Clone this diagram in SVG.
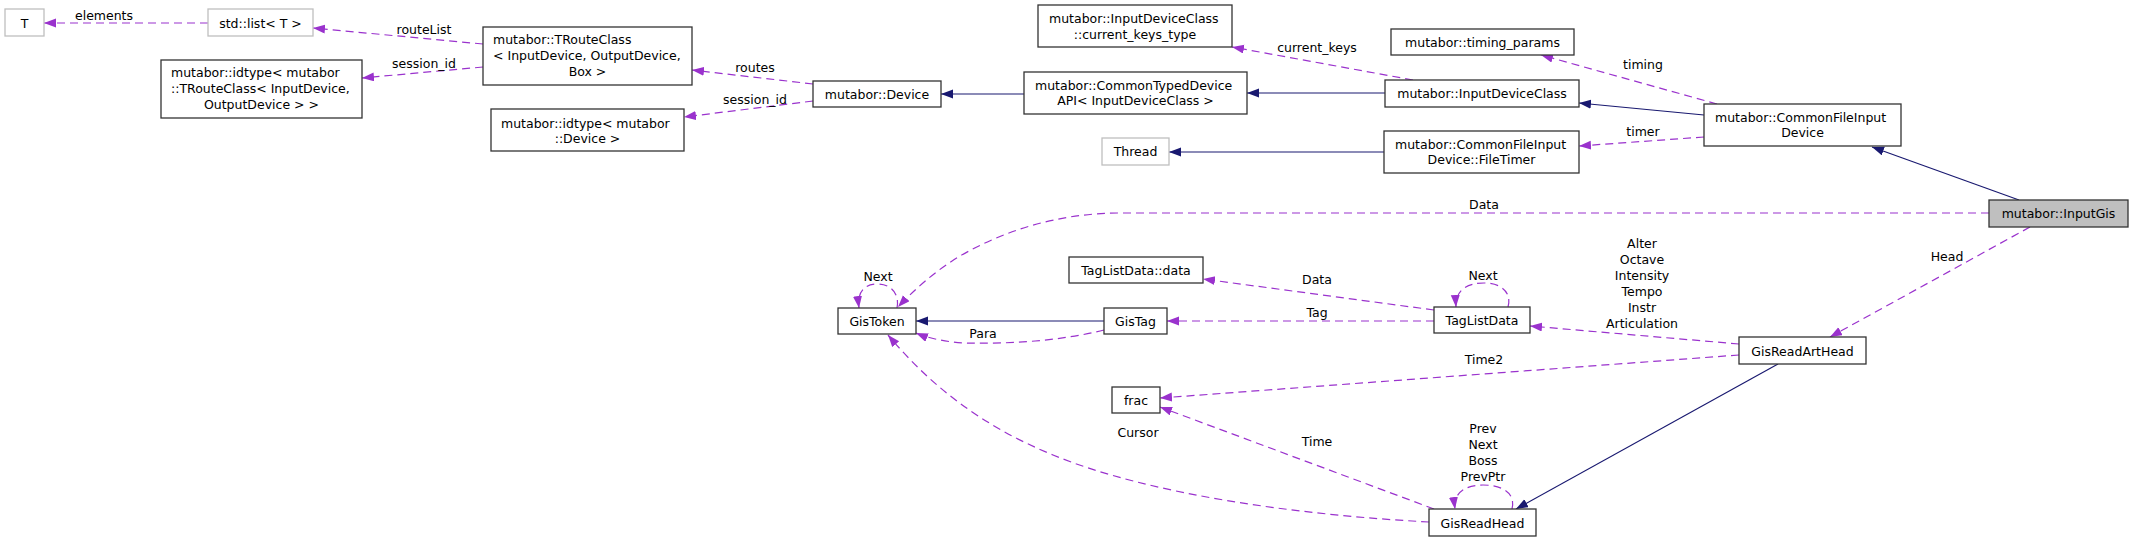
<svg xmlns="http://www.w3.org/2000/svg" width="2133" height="541" viewBox="0 0 2133 541">
<style>
  text { font-family: "DejaVu Sans", "Liberation Sans", sans-serif; font-size: 12.5px; fill: #000; }
  .c { text-anchor: middle; }
  .l { text-anchor: start; }
  .box { fill: #fff; stroke: #333; stroke-width: 1.3; }
  .gbox { fill: #fff; stroke: #bfbfbf; stroke-width: 1.3; }
  .sel { fill: #bfbfbf; stroke: #333; stroke-width: 1.3; }
  .use { fill: none; stroke: #9a32cd; stroke-width: 1.2; stroke-dasharray: 8,5; marker-end: url(#ap); }
  .inh { fill: none; stroke: #191970; stroke-width: 1.2; marker-end: url(#ab); }
</style>
<defs>
  <marker id="ap" markerUnits="userSpaceOnUse" markerWidth="13" markerHeight="10" refX="12" refY="4.5" orient="auto" viewBox="0 0 13 10">
    <path d="M0,0 L12,4.5 L0,9 z" fill="#9a32cd"/>
  </marker>
  <marker id="ab" markerUnits="userSpaceOnUse" markerWidth="13" markerHeight="10" refX="12" refY="4.5" orient="auto" viewBox="0 0 13 10">
    <path d="M0,0 L12,4.5 L0,9 z" fill="#191970"/>
  </marker>
</defs>
<rect width="2133" height="541" fill="#fff"/>

<g id="connectors">
  <path class="use" d="M208,23 L44,23"/>
  <path class="use" d="M483,44 L313,28"/>
  <path class="use" d="M483,67 L362,78"/>
  <path class="use" d="M813,84 L692,70"/>
  <path class="use" d="M813,101 L684,117"/>
  <path class="use" d="M1413,80 L1232,47"/>
  <path class="use" d="M1717,104 L1541,55"/>
  <path class="use" d="M1704,137 L1579,146"/>
  <path class="use" d="M1989,213 L1120,213 C1060,213 1005,230 960,256 C935,271 914,290 898,307"/>
  <path class="use" d="M2030,227 L1830,337"/>
  <path class="use" d="M1434,310 L1203,279"/>
  <path class="use" d="M1434,321 L1167,321"/>
  <path class="use" d="M1508,307 C1512,293 1502,283 1484,283 C1466,283 1455,291 1456,307"/>
  <path class="use" d="M897,308 C900,293 890,284 878,284 C864,284 857,292 859,308"/>
  <path class="use" d="M1104,330 C1060,341 1010,344 965,343 C945,342 928,338 916,333"/>
  <path class="use" d="M1739,344 L1530,326"/>
  <path class="use" d="M1739,355 L1160,398"/>
  <path class="use" d="M1434,509 L1160,407"/>
  <path class="use" d="M1429,522 C1300,515 1150,495 1053,455 C980,425 930,385 888,335"/>
  <path class="use" d="M1512,509 C1516,493 1502,485 1483,485 C1464,485 1453,494 1455,509"/>

  <path class="inh" d="M1024,94 L941,94"/>
  <path class="inh" d="M1385,93 L1247,93"/>
  <path class="inh" d="M1704,115 L1579,103"/>
  <path class="inh" d="M1384,152 L1169,152"/>
  <path class="inh" d="M1104,321 L916,321"/>
  <path class="inh" d="M2019,200 L1872,147"/>
  <path class="inh" d="M1778,364 L1516,509"/>

  <text class="c" x="104" y="19.5">elements</text>
  <text class="c" x="424" y="34">routeList</text>
  <text class="c" x="424" y="67.5">session_id</text>
  <text class="c" x="755" y="71.5">routes</text>
  <text class="c" x="755" y="103.5">session_id</text>
  <text class="c" x="1317" y="51.5">current_keys</text>
  <text class="c" x="1643" y="68.5">timing</text>
  <text class="c" x="1643" y="135.5">timer</text>
  <text class="c" x="1484" y="208.5">Data</text>
  <text class="c" x="1947" y="260.5">Head</text>
  <text class="c" x="878" y="280.5">Next</text>
  <text class="c" x="1317" y="283.5">Data</text>
  <text class="c" x="1483" y="279.5">Next</text>
  <text class="c" x="983" y="337.5">Para</text>
  <text class="c" x="1317" y="316.5">Tag</text>
  <text class="c" x="1642" y="247.5">Alter</text>
  <text class="c" x="1642" y="263.5">Octave</text>
  <text class="c" x="1642" y="279.5">Intensity</text>
  <text class="c" x="1642" y="295.5">Tempo</text>
  <text class="c" x="1642" y="311.5">Instr</text>
  <text class="c" x="1642" y="327.5">Articulation</text>
  <text class="c" x="1484" y="363.5">Time2</text>
  <text class="c" x="1138" y="437">Cursor</text>
  <text class="c" x="1317" y="445.5">Time</text>
  <text class="c" x="1483" y="433">Prev</text>
  <text class="c" x="1483" y="449">Next</text>
  <text class="c" x="1483" y="465">Boss</text>
  <text class="c" x="1483" y="481">PrevPtr</text>
</g>

<g id="node_T">
  <rect class="gbox" x="5" y="9" width="39" height="27"/>
  <text class="c" x="24.5" y="27.5">T</text>
</g>
<g id="node_std_list">
  <rect class="gbox" x="208" y="9" width="105" height="27"/>
  <text class="c" x="260.5" y="27.5">std::list&lt; T &gt;</text>
</g>
<g id="node_idtype_TRouteClass">
  <rect class="box" x="161" y="60" width="201" height="58"/>
  <text class="l" x="171" y="76.5">mutabor::idtype&lt; mutabor</text>
  <text class="l" x="171" y="92.5">::TRouteClass&lt; InputDevice,</text>
  <text class="c" x="261.5" y="108.5">OutputDevice &gt; &gt;</text>
</g>
<g id="node_TRouteClass">
  <rect class="box" x="483" y="27" width="209" height="58"/>
  <text class="l" x="493" y="44">mutabor::TRouteClass</text>
  <text class="l" x="493" y="60">&lt; InputDevice, OutputDevice,</text>
  <text class="c" x="587.5" y="76">Box &gt;</text>
</g>
<g id="node_idtype_Device">
  <rect class="box" x="491" y="109" width="193" height="42"/>
  <text class="l" x="501" y="127.5">mutabor::idtype&lt; mutabor</text>
  <text class="c" x="587.5" y="143">::Device &gt;</text>
</g>
<g id="node_Device">
  <rect class="box" x="813" y="81" width="128" height="26"/>
  <text class="c" x="877" y="98.5">mutabor::Device</text>
</g>
<g id="node_CommonTypedDeviceAPI">
  <rect class="box" x="1024" y="72" width="223" height="42"/>
  <text class="l" x="1035" y="89.5">mutabor::CommonTypedDevice</text>
  <text class="c" x="1135.5" y="105">API&lt; InputDeviceClass &gt;</text>
</g>
<g id="node_current_keys_type">
  <rect class="box" x="1038" y="5" width="194" height="42"/>
  <text class="l" x="1049" y="23">mutabor::InputDeviceClass</text>
  <text class="c" x="1135" y="39">::current_keys_type</text>
</g>
<g id="node_InputDeviceClass">
  <rect class="box" x="1385" y="80" width="194" height="27"/>
  <text class="c" x="1482" y="98">mutabor::InputDeviceClass</text>
</g>
<g id="node_timing_params">
  <rect class="box" x="1391" y="29" width="183" height="26"/>
  <text class="c" x="1482.5" y="47">mutabor::timing_params</text>
</g>
<g id="node_Thread">
  <rect class="gbox" x="1102" y="138" width="67" height="27"/>
  <text class="c" x="1135.5" y="156">Thread</text>
</g>
<g id="node_FileTimer">
  <rect class="box" x="1384" y="131" width="195" height="42"/>
  <text class="l" x="1395" y="148.5">mutabor::CommonFileInput</text>
  <text class="c" x="1481.5" y="164">Device::FileTimer</text>
</g>
<g id="node_CommonFileInputDevice">
  <rect class="box" x="1704" y="104" width="197" height="42"/>
  <text class="l" x="1715" y="121.5">mutabor::CommonFileInput</text>
  <text class="c" x="1802.5" y="137">Device</text>
</g>
<g id="node_InputGis">
  <rect class="sel" x="1989" y="200" width="139" height="27"/>
  <text class="c" x="2058.5" y="218">mutabor::InputGis</text>
</g>
<g id="node_GisToken">
  <rect class="box" x="838" y="308" width="78" height="26"/>
  <text class="c" x="877" y="325.5">GisToken</text>
</g>
<g id="node_GisTag">
  <rect class="box" x="1104" y="308" width="63" height="26"/>
  <text class="c" x="1135.5" y="325.5">GisTag</text>
</g>
<g id="node_TagListData_data">
  <rect class="box" x="1069" y="257" width="134" height="26"/>
  <text class="c" x="1136" y="274.5">TagListData::data</text>
</g>
<g id="node_TagListData">
  <rect class="box" x="1434" y="307" width="96" height="26"/>
  <text class="c" x="1482" y="324.5">TagListData</text>
</g>
<g id="node_GisReadArtHead">
  <rect class="box" x="1739" y="337" width="127" height="27"/>
  <text class="c" x="1802.5" y="355.5">GisReadArtHead</text>
</g>
<g id="node_frac">
  <rect class="box" x="1112" y="387" width="48" height="26"/>
  <text class="c" x="1136" y="404.5">frac</text>
</g>
<g id="node_GisReadHead">
  <rect class="box" x="1429" y="509" width="107" height="27"/>
  <text class="c" x="1482.5" y="527.5">GisReadHead</text>
</g>
</svg>
